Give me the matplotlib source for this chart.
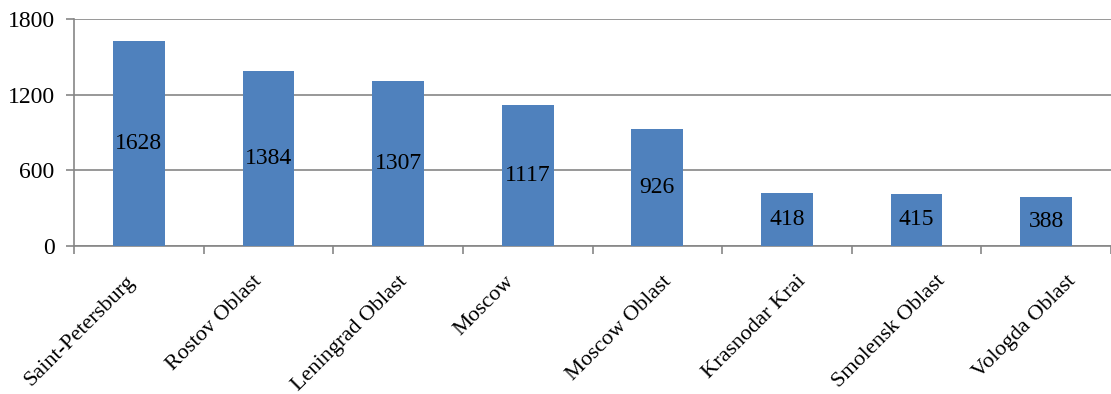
import matplotlib
matplotlib.use("Agg")
import matplotlib.pyplot as plt
import matplotlib.transforms as mtransforms
import numpy as np

categories = ["Saint-Petersburg", "Rostov Oblast", "Leningrad Oblast", "Moscow",
              "Moscow Oblast", "Krasnodar Krai", "Smolensk Oblast", "Vologda Oblast"]
values = [1628, 1384, 1307, 1117, 926, 418, 415, 388]
yticks = [0, 600, 1200, 1800]

plt.rcParams['font.family'] = ['Liberation Serif', 'DejaVu Serif']

W, H = 1111, 394
fig = plt.figure(figsize=(W / 100, H / 100), dpi=100)
ax = fig.add_axes([74 / W, 1 - 246 / H, 1 - 74 / W, (246 - 19) / H])

x = np.arange(len(categories))
ax.bar(x, values, width=0.4, color="#4F81BD", zorder=3)
for xi, v in zip(x, values):
    ax.text(xi, v / 2, str(v), ha="center", va="center", fontsize=17, zorder=4)

ax.set_xlim(-0.5, len(categories) - 0.5)
ax.set_ylim(0, 1800)
ax.set_yticks(yticks)
ax.set_yticklabels([str(t) for t in yticks], fontsize=17)
ax.yaxis.grid(True, color="#868686", linewidth=1.2, zorder=0)

ax.set_xticks(x)
ax.set_xticklabels([])
ax.tick_params(axis="x", which="major", length=0)
ax.set_xticks(np.arange(len(categories) + 1) - 0.5, minor=True)
ax.tick_params(axis="x", which="minor", length=6, color="#868686", width=1.2)
ax.tick_params(axis="y", length=6, color="#868686", width=1.2, pad=8)

# category labels: centred rotated boxes, spaced slightly wider than the bars (as in reference)
trans = mtransforms.offset_copy(ax.get_xaxis_transform(), fig=fig, x=0, y=-26, units="dots")
for i, lab in enumerate(categories):
    xl = i - 0.455 + 0.041 * i
    ax.text(xl, 0, lab, transform=trans, rotation=45, ha="center", va="top",
            fontsize=16, clip_on=False)

for s in ["top", "right"]:
    ax.spines[s].set_visible(False)
for s in ["left", "bottom"]:
    ax.spines[s].set_color("#868686")
    ax.spines[s].set_linewidth(1.2)

fig.savefig("out.png", dpi=100)
